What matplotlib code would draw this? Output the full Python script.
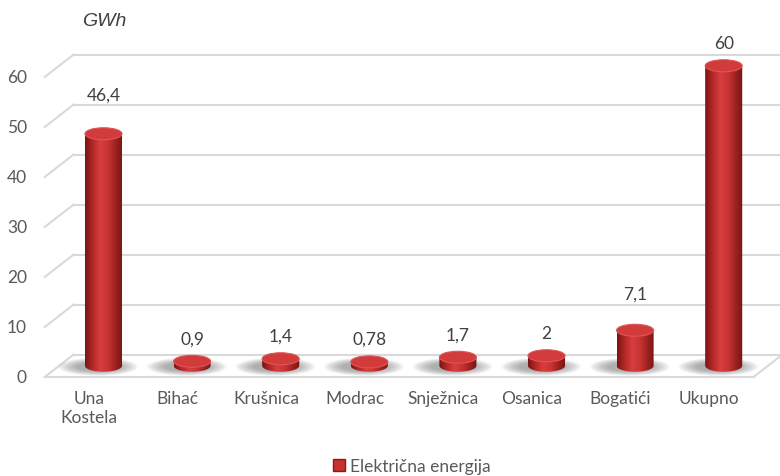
import numpy as np
import matplotlib
matplotlib.use("Agg")
import matplotlib.pyplot as plt
from matplotlib.patches import Ellipse, PathPatch, Patch
from matplotlib.path import Path
from matplotlib.colors import LinearSegmentedColormap

categories = ["Una\nKostela", "Bihać", "Krušnica", "Modrac", "Snježnica", "Osanica", "Bogatići", "Ukupno"]
values = [46.4, 0.9, 1.4, 0.78, 1.7, 2, 7.1, 60]
value_labels = ["46,4", "0,9", "1,4", "0,78", "1,7", "2", "7,1", "60"]
y_ticks = [0, 10, 20, 30, 40, 50, 60]
unit = "GWh"
series_name = "Električna energija"

plt.rcParams['font.family'] = ['Lato', 'DejaVu Sans']

fig = plt.figure(figsize=(7.8, 4.77), dpi=100)
ax = fig.add_axes([0, 0, 1, 1])
ax.set_xlim(-1.0045, 7.799)
ax.set_ylim(-19.8, 75.6)
ax.axis('off')

# oblique 3d depth offset (category units, value units)
dx, dy = 0.327, 4.5
grid_c = "#d9d9d9"
text_c = "#595959"

# walls / gridlines
for v in y_ticks:
    ax.plot([-0.5, -0.5 + dx], [v, v + dy], color=grid_c, lw=1.5, zorder=1)
    ax.plot([-0.5 + dx, 8.5], [v + dy, v + dy], color=grid_c, lw=1.5, zorder=1)
    ax.text(-0.70, v, str(v), ha='right', va='center', fontsize=12.5, color=text_c)
ax.plot([-0.5, 7.5], [0, 0], color=grid_c, lw=1.5, zorder=1)
ax.plot([7.5, 7.5 + dx], [0, dy], color=grid_c, lw=1.5, zorder=1)

cmap = LinearSegmentedColormap.from_list(
    "cyl", ["#7a1414", "#b52828", "#d83e3e", "#c83434", "#a22222", "#761515"])
grad = np.linspace(0, 1, 64).reshape(1, -1)

w = 0.418      # cylinder width
eh = 2.4       # ellipse height
label_nudge = [3.2, 0, 0, 0, 0, 0, 2.7, 0]

for i, (v, lab) in enumerate(zip(values, value_labels)):
    xc = i + dx / 2
    yb = dy / 2
    yt = yb + v

    # soft shadow on the floor
    for k in range(10):
        s = 1 - k / 10
        ax.add_patch(Ellipse((xc - 0.06, yb - 0.2), 0.45 + 0.45 * s, 1.6 + 2.0 * s,
                             facecolor="#505050", edgecolor="none", alpha=0.055, zorder=2))

    # body: rectangle + lower half ellipse
    th = np.linspace(np.pi, 2 * np.pi, 40)
    verts = [(xc - w / 2, yt)]
    verts += list(zip(xc + w / 2 * np.cos(th), yb + eh / 2 * np.sin(th)))
    verts += [(xc + w / 2, yt), (xc - w / 2, yt)]
    body = PathPatch(Path(verts, closed=True), facecolor="none", edgecolor="none", zorder=3)
    ax.add_patch(body)
    im = ax.imshow(grad, cmap=cmap, extent=[xc - w / 2, xc + w / 2, yb - eh / 2, yt],
                   aspect='auto', interpolation='bilinear', zorder=3)
    im.set_clip_path(body)

    # top cap
    ax.add_patch(Ellipse((xc, yt), w, eh, facecolor="#d23b3b", edgecolor="#e05555",
                         lw=0.8, zorder=4))

    ax.text(xc, v + 6.8 + label_nudge[i], lab, ha='center', va='center',
            fontsize=12.5, color="#404040", zorder=5)

for i, c in enumerate(categories):
    ax.text(i, -2.6, c, ha='center', va='top', fontsize=12.5, color=text_c, linespacing=1.2)

ax.text(0.17, 71.2, unit, ha='center', va='center', fontsize=14, style='italic',
        color="#404040", family=['Liberation Sans', 'DejaVu Sans'])

ax.legend(handles=[Patch(facecolor="#c83030", edgecolor="#8a1a1a", label=series_name)],
          loc='center', bbox_to_anchor=(412 / 780, 1 - 467 / 477), frameon=False,
          fontsize=12.5, handlelength=0.7, handleheight=0.7, handletextpad=0.3,
          labelcolor=text_c)

fig.savefig("out.png", dpi=100)
